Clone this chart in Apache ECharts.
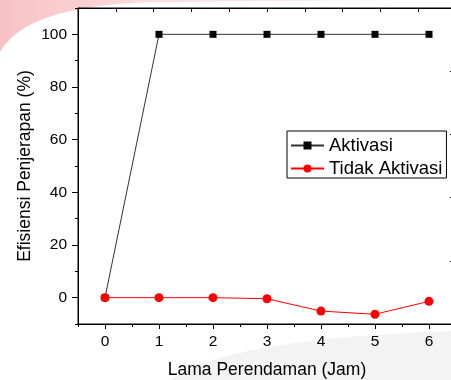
<!DOCTYPE html>
<html><head><meta charset="utf-8">
<script src="https://cdn.jsdelivr.net/npm/echarts@6/dist/echarts.min.js"></script>
<style>html,body{margin:0;padding:0;background:#fff}#c{width:451px;height:380px}</style>
</head><body><div id="c"></div>
<script>
const hours = [0, 1, 2, 3, 4, 5, 6];
const aktivasi = [0, 100, 100, 100, 100, 100, 100];
const tidakAktivasi = [0, 0, 0, -0.4, -5.1, -6.3, -1.4];
const yTickLabels = [0, 20, 40, 60, 80, 100];
const xTickLabels = [0, 1, 2, 3, 4, 5, 6];
const seriesNames = ['Aktivasi', 'Tidak Aktivasi'];
const xTitle = 'Lama Perendaman (Jam)';
const yTitle = 'Efisiensi Penjerapan (%)';

const font = 'Liberation Sans, Arial, sans-serif';
const chart = echarts.init(document.getElementById('c'), null, {renderer: 'canvas'});
const pairs = (ys) => hours.map((h, i) => [h, ys[i]]);
const minorX = [-0.5, 0.5, 1.5, 2.5, 3.5, 4.5, 5.5, 6.5];
const minorY = [-10, 10, 30, 50, 70, 90, 110];
const gridRect = {left: 78, right: -5, top: 8, bottom: 56, containLabel: false, outerBoundsMode: 'none'};

// decorative background shapes (watermark), sampled cubic curves
function bez(p0, p1, p2, p3, n) {
  const pts = [];
  for (let i = 0; i <= n; i++) {
    const t = i / n, u = 1 - t;
    pts.push([
      u*u*u*p0[0] + 3*u*u*t*p1[0] + 3*u*t*t*p2[0] + t*t*t*p3[0],
      u*u*u*p0[1] + 3*u*u*t*p1[1] + 3*u*t*t*p2[1] + t*t*t*p3[1]
    ]);
  }
  return pts;
}
const pinkPts = [[0, 0]].concat(bez([0, 52], [18, 22], [60, 6], [150, 2], 30), [[430, 0]]);
const greyPts = bez([170, 380], [215, 348], [320, 336], [451, 331], 30).concat([[451, 380]]);

chart.setOption({
  animation: false,
  backgroundColor: '#fff',
  graphic: [
    {type: 'polygon', z: -10, silent: true,
     shape: {points: pinkPts},
     style: {fill: new echarts.graphic.LinearGradient(0, 0, 1, 0, [
       {offset: 0, color: 'rgba(248,194,197,1)'},
       {offset: 0.35, color: 'rgba(251,220,221,1)'},
       {offset: 1, color: 'rgba(255,250,250,1)'}])}},
    {type: 'polygon', z: -10, silent: true,
     shape: {points: greyPts},
     style: {fill: '#f3f3f3'}}
  ],
  grid: [
    Object.assign({show: true, borderColor: '#000', borderWidth: 1, backgroundColor: 'transparent'}, gridRect),
    Object.assign({}, gridRect)
  ],
  legend: {
    orient: 'vertical', left: 287, top: 131,
    data: seriesNames,
    backgroundColor: '#fff', borderColor: '#000', borderWidth: 1,
    padding: [5, 4, 0, 3], itemGap: 4, itemWidth: 33, itemHeight: 10,
    textStyle: {fontFamily: font, fontSize: 18.5, color: '#000'}
  },
  xAxis: [
    {gridIndex: 0, type: 'value', min: -0.5, max: 6.5, position: 'bottom',
     name: xTitle, nameLocation: 'middle', nameGap: 37, nameMoveOverlap: false,
     nameTextStyle: {fontFamily: font, fontSize: 17.5, color: '#000'},
     axisLine: {show: true, onZero: false, lineStyle: {color: '#000', width: 1}},
     axisTick: {show: true, inside: false, length: 5, customValues: xTickLabels, lineStyle: {color: '#000'}},
     axisLabel: {show: true, customValues: xTickLabels, margin: 10, fontFamily: font, fontSize: 15.5, color: '#000'},
     splitLine: {show: false}},
    {gridIndex: 0, type: 'value', min: 0, max: 10, interval: 1, position: 'top',
     axisLine: {show: true, onZero: false, lineStyle: {color: '#000', width: 1}},
     axisTick: {show: true, inside: true, length: 4, lineStyle: {color: '#000'}},
     axisLabel: {show: false}, splitLine: {show: false}},
    {gridIndex: 1, type: 'value', min: -0.5, max: 6.5, position: 'bottom',
     axisLine: {show: false, onZero: false},
     axisTick: {show: true, inside: false, length: 3, customValues: minorX, lineStyle: {color: '#000'}},
     axisLabel: {show: false}, splitLine: {show: false}}
  ],
  yAxis: [
    {gridIndex: 0, type: 'value', min: -10, max: 110, position: 'left',
     name: yTitle, nameLocation: 'middle', nameGap: 44, nameMoveOverlap: false,
     nameTextStyle: {fontFamily: font, fontSize: 17.5, color: '#000'},
     axisLine: {show: true, onZero: false, lineStyle: {color: '#000', width: 1}},
     axisTick: {show: true, inside: false, length: 6, customValues: yTickLabels, lineStyle: {color: '#000'}},
     axisLabel: {show: true, customValues: yTickLabels, margin: 11, fontFamily: font, fontSize: 15.5, color: '#000'},
     splitLine: {show: false}},
    {gridIndex: 0, type: 'value', min: 0, max: 5, interval: 1, position: 'right',
     axisLine: {show: true, onZero: false, lineStyle: {color: '#000', width: 1}},
     axisTick: {show: true, inside: true, length: 6, lineStyle: {color: '#000'}},
     axisLabel: {show: false}, splitLine: {show: false}},
    {gridIndex: 1, type: 'value', min: -10, max: 110, position: 'left',
     axisLine: {show: false, onZero: false},
     axisTick: {show: true, inside: false, length: 3, customValues: minorY, lineStyle: {color: '#000'}},
     axisLabel: {show: false}, splitLine: {show: false}}
  ],
  series: [
    {name: seriesNames[0], type: 'line', xAxisIndex: 0, yAxisIndex: 0, data: pairs(aktivasi),
     symbol: 'rect', symbolSize: 7, color: '#000',
     lineStyle: {color: '#333', width: 1}, itemStyle: {color: '#000'}, z: 2},
    {name: seriesNames[1], type: 'line', xAxisIndex: 0, yAxisIndex: 0, data: pairs(tidakAktivasi),
     symbol: 'circle', symbolSize: 9, color: '#ff0000',
     lineStyle: {color: '#ff0000', width: 1}, itemStyle: {color: '#ff0000'}, z: 3}
  ]
});
</script></body></html>
